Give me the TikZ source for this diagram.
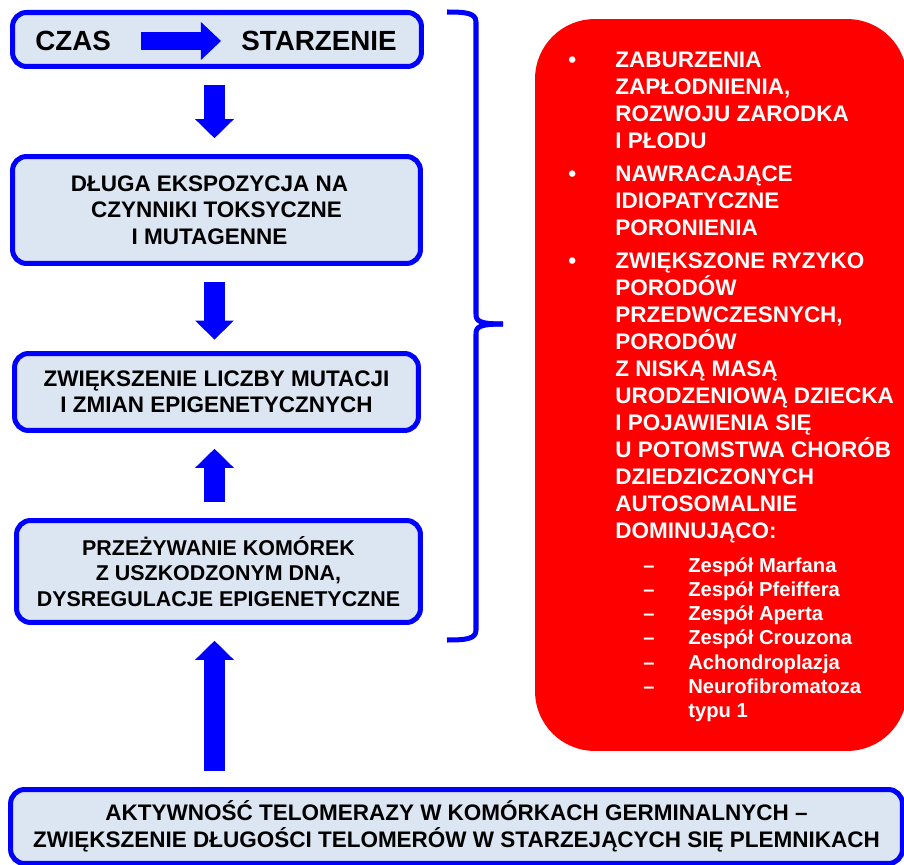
\documentclass[tikz,border=0pt]{standalone}
\usepackage{fontspec}
\setmainfont{Liberation Sans}
\usetikzlibrary{arrows.meta,positioning}
\definecolor{boxblue}{RGB}{0,0,255}
\definecolor{boxfill}{RGB}{220,230,242}
\definecolor{riskred}{RGB}{255,0,0}
\newcommand{\redbullet}{\makebox[0.94cm][l]{\textbullet}}
\newcommand{\redindent}{\hspace*{0.94cm}}
\newcommand{\subdash}{\makebox[0.9cm][l]{\textendash}}
\newcommand{\subindent}{\hspace*{0.9cm}}
\newcommand{\nudge}{\hspace*{0.28cm}}
\tikzset{
  stage/.style={draw=boxblue, line width=2.85pt, fill=boxfill, rounded corners=8pt,
    align=center, inner sep=0pt, font=\fontsize{12.8}{15}\selectfont\bfseries},
  bigword/.style={inner sep=0pt, font=\fontsize{15.8}{18}\selectfont\bfseries},
  flowarrow/.style={draw=boxblue, line width=11.4pt,
    -{Triangle[length=10.8pt 0 0, width=22pt 0 0, line width=0pt 0 0]},
    shorten <=9pt, shorten >=9pt},
  timearrow/.style={draw=boxblue, line width=10.2pt,
    -{Triangle[length=11.4pt 0 0, width=21.6pt 0 0, line width=0pt 0 0]},
    shorten <=17pt, shorten >=11.4pt},
  bracket/.style={draw=boxblue, line width=2.85pt},
  riskbox/.style={fill=riskred, rounded corners=34pt, inner sep=0pt},
  risktext/.style={text=white, align=left, inner sep=0pt, anchor=north west}
}
\begin{document}
\begin{tikzpicture}[x=0.02cm, y=-0.02cm]
\useasboundingbox (0,0) rectangle (904,865);
% red panel on the right
\node[riskbox, minimum width=7.44cm, minimum height=14.64cm] (risks) at (721,385) {};
\node[risktext, font=\fontsize{12.8}{15.37}\selectfont\bfseries] (risklist) at (568,52) {%
\redbullet ZABURZENIA\\
\redindent ZAPŁODNIENIA,\\
\redindent ROZWOJU ZARODKA\\
\redindent I PŁODU\\[3.4pt]
\redbullet NAWRACAJĄCE\\
\redindent IDIOPATYCZNE\\
\redindent PORONIENIA\\[3.4pt]
\redbullet ZWIĘKSZONE RYZYKO\\
\redindent PORODÓW\\
\redindent PRZEDWCZESNYCH,\\
\redindent PORODÓW\\
\redindent Z NISKĄ MASĄ\\
\redindent URODZENIOWĄ DZIECKA\\
\redindent I POJAWIENIA SIĘ\\
\redindent U POTOMSTWA CHORÓB\\
\redindent DZIEDZICZONYCH\\
\redindent AUTOSOMALNIE\\
\redindent DOMINUJĄCO:};
\node[risktext, font=\fontsize{11.5}{13.8}\selectfont\bfseries] (syndromes) at (643,557) {%
\subdash Zespół Marfana\\
\subdash Zespół Pfeiffera\\
\subdash Zespół Aperta\\
\subdash Zespół Crouzona\\
\subdash Achondroplazja\\
\subdash Neurofibromatoza\\
\subindent typu 1};
% chain of boxes on the left
\node[stage, minimum width=8.18cm, minimum height=1.08cm] (time) at (217,39.5) {};
\node[bigword, anchor=west] (czas) at (35,41) {CZAS};
\node[bigword, anchor=east] (aging) at (397,41) {STARZENIE};
\draw[timearrow] (czas) -- (aging);
\node[stage, minimum width=8.16cm, minimum height=2.14cm] (exposure) at (216.5,210)
  {DŁUGA EKSPOZYCJA NA\nudge\\CZYNNIKI TOKSYCZNE\nudge\\I MUTAGENNE\nudge};
\node[stage, minimum width=8.08cm, minimum height=1.54cm] (mutations) at (216.5,392)
  {ZWIĘKSZENIE LICZBY MUTACJI\\I ZMIAN EPIGENETYCZNYCH};
\node[stage, minimum width=8.08cm, minimum height=2.04cm, font=\fontsize{12.2}{14.6}\selectfont\bfseries] (survival) at (218.5,571.5)
  {PRZEŻYWANIE KOMÓREK\\Z USZKODZONYM DNA,\\DYSREGULACJE EPIGENETYCZNE};
\node[stage, minimum width=17.84cm, minimum height=1.48cm, font=\fontsize{12.8}{15.4}\selectfont\bfseries] (telomerase) at (456.5,826.5)
  {AKTYWNOŚĆ TELOMERAZY W KOMÓRKACH GERMINALNYCH \textendash\\ZWIĘKSZENIE DŁUGOŚCI TELOMERÓW W STARZEJĄCYCH SIĘ PLEMNIKACH};
\coordinate (axis) at (214.5,0);
\draw[flowarrow] (time.south -| axis) -- (exposure.north -| axis);
\draw[flowarrow, shorten >=6.5pt] (exposure.south -| axis) -- (mutations.north -| axis);
\draw[flowarrow] (survival.north -| axis) -- (mutations.south -| axis);
\draw[flowarrow] (telomerase.north -| axis) -- (survival.south -| axis);
% brace
\draw[bracket] (447,12) .. controls (466,12) and (476,13) .. (476,22) -- (476,314)
  .. controls (476,321) and (479,324) .. (503,324);
\draw[bracket] (503,324) .. controls (479,324) and (476,327) .. (476,334) -- (476,630)
  .. controls (476,639) and (466,640) .. (447,640);
\end{tikzpicture}
\end{document}
